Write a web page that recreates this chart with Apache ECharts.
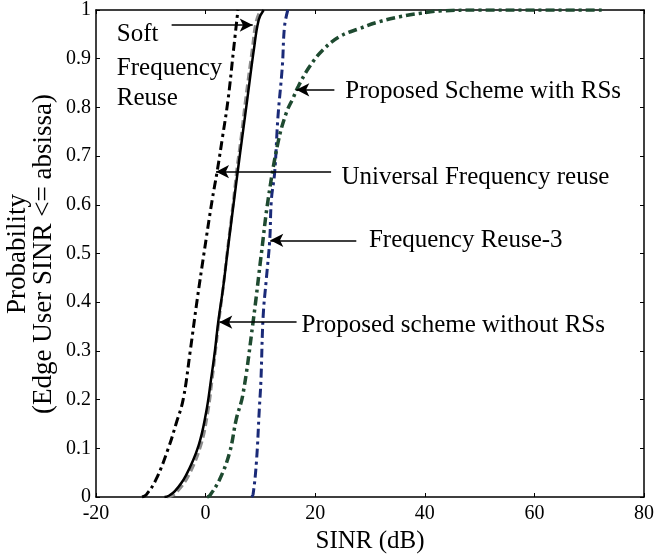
<!DOCTYPE html>
<html>
<head>
<meta charset="utf-8">
<script src="https://cdn.jsdelivr.net/npm/echarts@6/dist/echarts.min.js"></script>
<style>html,body{margin:0;padding:0;background:#fff}#c{width:657px;height:559px}</style>
</head>
<body>
<div id="c"></div>
<script>
// ---- data ----
const xTicks = [-20, 0, 20, 40, 60, 80];
const yTicks = [0, 0.1, 0.2, 0.3, 0.4, 0.5, 0.6, 0.7, 0.8, 0.9, 1];

// Universal Frequency reuse (black dash-dot)
const univX = [-11.6, -10.8, -9.0, -6.8, -5.4, -4.1, -2.8, -1.6, -0.3, 1.2, 2.1, 3.1, 4.1, 5.1, 5.9];
const univY = [0, 0.005, 0.037, 0.10, 0.15, 0.20, 0.30, 0.40, 0.50, 0.61, 0.668, 0.74, 0.816, 0.918, 1.0];

// Proposed scheme without RSs (black solid)
const noRsX = [-7.5, -6.8, -5.6, -3.6, -1.3, 0.1, 1.0, 1.7, 2.3, 3.2, 4.05, 5.2, 5.9, 6.7, 7.6, 8.8, 9.7, 10.6];
const noRsY = [0, 0.002, 0.012, 0.044, 0.105, 0.174, 0.242, 0.30, 0.359, 0.43, 0.508, 0.61, 0.672, 0.74, 0.816, 0.918, 0.98, 1.0];

// Soft Frequency Reuse (gray dashed)
const softX = [-7.0, -6.2, -5.1, -3.1, -0.9, 0.4, 1.2, 1.8, 2.4, 3.2, 4.0, 5.1, 5.7, 6.5, 7.3, 8.5, 9.2, 10.0];
const softY = [0, 0.002, 0.012, 0.044, 0.105, 0.174, 0.242, 0.30, 0.359, 0.43, 0.508, 0.61, 0.672, 0.74, 0.816, 0.918, 0.975, 1.0];

// Frequency Reuse-3 (navy dash-dot)
const fr3X = [8.4, 8.66, 9.27, 9.8, 10.1, 10.5, 11.1, 11.7, 12.0, 12.6, 13.2, 14.0, 14.4, 15.0];
const fr3Y = [0, 0.005, 0.071, 0.18, 0.24, 0.371, 0.45, 0.527, 0.61, 0.666, 0.78, 0.884, 0.966, 1.0];

// Proposed Scheme with RSs (dark green dash-dot)
const rsX = [0.3, 0.77, 2.6, 4.4, 5.6, 6.8, 8.66, 10.2, 11.4, 13.2, 14.7, 16.0, 16.9, 18.98, 21.4, 24.4, 28.1, 31.7, 35.4, 39.0, 42.7, 50, 60, 72.3];
const rsY = [0, 0.003, 0.037, 0.092, 0.16, 0.21, 0.359, 0.502, 0.61, 0.727, 0.788, 0.82, 0.843, 0.884, 0.918, 0.945, 0.962, 0.976, 0.986, 0.993, 0.998, 1, 1, 1];

// annotations: text lines and anchor (left, middle) in data coords
const annText = ['Soft', 'Frequency', 'Reuse', 'Proposed Scheme with RSs', 'Universal Frequency reuse', 'Frequency Reuse-3', 'Proposed scheme without RSs'];
const annPos = [[-16.2, 0.949], [-16.2, 0.879], [-16.2, 0.818], [25.5, 0.832], [24.8, 0.657], [29.8, 0.526], [17.5, 0.352]];
// arrows: [from, to] in data coords
const arrows = [
  [[-6.2, 0.969], [8.6, 0.969]],
  [[23.5, 0.836], [16.55, 0.836]],
  [[22.9, 0.668], [1.9, 0.668]],
  [[27.5, 0.527], [11.8, 0.527]],
  [[16.6, 0.359], [2.5, 0.359]]
];

const zip = (a, b) => a.map((v, i) => [v, b[i]]);
const FONT = 'Liberation Serif';

const chart = echarts.init(document.getElementById('c'));
const axisLine = {show: true, onZero: false, lineStyle: {color: '#000', width: 1.5}};
const tick = {show: true, inside: true, length: 4, lineStyle: {color: '#000', width: 1}};

const option = {
  animation: false,
  grid: {left: 96, right: 12, top: 10, bottom: 61},
  xAxis: [{
    type: 'value', min: -20, max: 80, interval: 20,
    axisLine: axisLine, axisTick: tick, splitLine: {show: false},
    axisLabel: {color: '#000', fontFamily: FONT, fontSize: 20, margin: 7, formatter: v => xTicks.includes(v) ? String(v) : ''},
    name: 'SINR (dB)', nameLocation: 'middle', nameGap: 32,
    nameTextStyle: {color: '#000', fontFamily: FONT, fontSize: 25}
  }, {
    type: 'value', position: 'top', min: -20, max: 80, interval: 20,
    axisLine: axisLine, axisTick: tick, axisLabel: {show: false}, splitLine: {show: false}
  }],
  yAxis: [{
    type: 'value', min: 0, max: 1, interval: 0.1,
    axisLine: axisLine, axisTick: tick, splitLine: {show: false},
    axisLabel: {color: '#000', fontFamily: FONT, fontSize: 20, margin: 5,
      formatter: v => { const t = yTicks.find(q => Math.abs(q - v) < 1e-9); return t === undefined ? '' : String(t); }}
  }, {
    type: 'value', position: 'right', min: 0, max: 1, interval: 0.1,
    axisLine: axisLine, axisTick: tick, axisLabel: {show: false}, splitLine: {show: false}
  }],
  series: [
    {type: 'line', name: 'Universal', data: zip(univX, univY), showSymbol: false, smooth: 0.4,
      lineStyle: {color: '#000', width: 3, type: [9, 4, 3, 4]}, z: 3},
    {type: 'line', name: 'Soft', data: zip(softX, softY), showSymbol: false, smooth: 0.4,
      lineStyle: {color: '#8c8c8c', width: 3, type: [8, 4]}, z: 2},
    {type: 'line', name: 'NoRS', data: zip(noRsX, noRsY), showSymbol: false, smooth: 0.4,
      lineStyle: {color: '#000', width: 2.5}, z: 4},
    {type: 'line', name: 'FR3', data: zip(fr3X, fr3Y), showSymbol: false, smooth: 0.4,
      lineStyle: {color: '#1a2a78', width: 3, type: [9, 4, 3, 4]}, z: 3},
    {type: 'line', name: 'RS', data: zip(rsX, rsY), showSymbol: false, smooth: 0.4,
      lineStyle: {color: '#1e4a30', width: 3.5, type: [9, 4, 3, 4]}, z: 3},
    {type: 'line', name: 'arrows', data: [], silent: true,
      markLine: {
        silent: true, symbol: ['none', 'arrow'], symbolSize: [10, 13],
        lineStyle: {color: '#000', width: 1.5, type: 'solid'}, label: {show: false},
        data: arrows.map(a => [{coord: a[0]}, {coord: a[1]}])
      }}
  ]
};
chart.setOption(option);

// text annotations placed through the chart's own coordinate conversion
const texts = annText.map((t, i) => {
  const p = chart.convertToPixel({xAxisIndex: 0, yAxisIndex: 0}, annPos[i]);
  return {type: 'text', x: p[0], y: p[1], style: {text: t, fill: '#000', font: '25px "' + FONT + '"', textAlign: 'left', textVerticalAlign: 'middle'}};
});
texts.push({type: 'text', x: 31, y: 254, rotation: Math.PI / 2,
  style: {text: 'Probability\n(Edge User SINR <= absissa)', fill: '#000', font: '27px "' + FONT + '"', textAlign: 'center', textVerticalAlign: 'middle', lineHeight: 26}});
chart.setOption({graphic: texts});
</script>
</body>
</html>
